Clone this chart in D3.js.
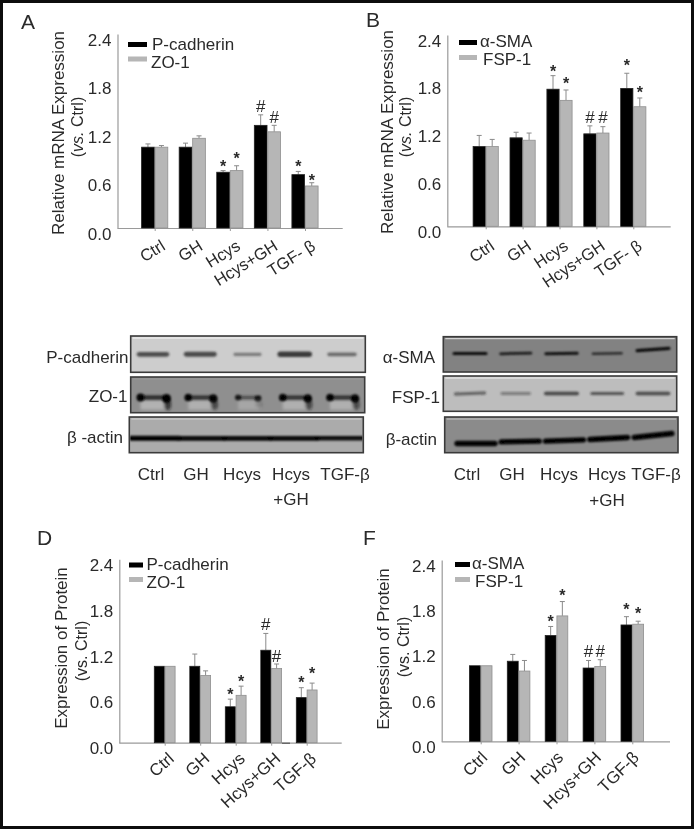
<!DOCTYPE html>
<html><head><meta charset="utf-8">
<script src="https://cdnjs.cloudflare.com/ajax/libs/d3/7.8.5/d3.min.js"></script>
<style>
html,body{margin:0;padding:0;background:#fff}
svg{display:block}
text{font-family:"Liberation Sans",Arial,sans-serif;fill:#2a2a2a}
</style></head><body>
<script>
// ---------- data ----------
const yTicks = [0, 0.6, 1.2, 1.8, 2.4];
const catsAB = ["Ctrl", "GH", "Hcys", "Hcys+GH", "TGF- β"];
const catsDF = ["Ctrl", "GH", "Hcys", "Hcys+GH", "TGF-β"];

const aBlack = [1.0, 1.0, 0.69, 1.27, 0.66];
const aBlackErr = [0.04, 0.05, 0.02, 0.13, 0.04];
const aGray = [1.0, 1.11, 0.71, 1.19, 0.52];
const aGrayErr = [0.02, 0.03, 0.06, 0.08, 0.04];
const aBlackMark = [null, null, "*", "#", "*"];
const aBlackMarkAt = [0, 0, 0.81, 1.51, 0.81];
const aGrayMark = [null, null, "*", "#", "*"];
const aGrayMarkAt = [0, 0, 0.91, 1.37, 0.64];

const bBlack = [1.0, 1.11, 1.72, 1.16, 1.73];
const bBlackErr = [0.14, 0.07, 0.17, 0.10, 0.19];
const bGray = [1.0, 1.08, 1.58, 1.17, 1.50];
const bGrayErr = [0.09, 0.09, 0.13, 0.08, 0.11];
const bBlackMark = [null, null, "*", "#", "*"];
const bBlackMarkAt = [0, 0, 2.0, 1.37, 2.07];
const bGrayMark = [null, null, "*", "#", "*"];
const bGrayMarkAt = [0, 0, 1.85, 1.37, 1.74];

const dBlack = [1.0, 1.0, 0.47, 1.21, 0.59];
const dBlackErr = [0, 0.16, 0.10, 0.22, 0.13];
const dGray = [1.0, 0.88, 0.62, 0.97, 0.69];
const dGrayErr = [0, 0.06, 0.12, 0.06, 0.09];
const dBlackMark = [null, null, "*", "#", "*"];
const dBlackMarkAt = [0, 0, 0.69, 1.55, 0.85];
const dGrayMark = [null, null, "*", "#", "*"];
const dGrayMarkAt = [0, 0, 0.86, 1.14, 0.96];

const fBlack = [1.0, 1.06, 1.40, 0.97, 1.54];
const fBlackErr = [0, 0.09, 0.12, 0.10, 0.11];
const fGray = [1.0, 0.93, 1.66, 0.99, 1.55];
const fGrayErr = [0, 0.14, 0.19, 0.09, 0.04];
const fBlackMark = [null, null, "*", "#", "*"];
const fBlackMarkAt = [0, 0, 1.64, 1.19, 1.80];
const fGrayMark = [null, null, "*", "#", "*"];
const fGrayMarkAt = [0, 0, 1.99, 1.19, 1.75];

// blot band strengths, one per lane
const cPcad = [0.72, 0.75, 0.38, 0.88, 0.48];
const cZo1 = [1.0, 0.92, 0.5, 0.92, 0.92];
const cActin = [1.0, 0.9, 0.9, 0.9, 0.85];
const eSma = [0.85, 0.7, 0.8, 0.55, 0.85];
const eFsp = [0.45, 0.3, 0.65, 0.55, 0.62];
const eActin = [0.95, 0.95, 0.95, 0.95, 0.95];
const blotLanes = ["Ctrl", "GH", "Hcys", "Hcys", "TGF-β"];

// ---------- drawing ----------
const W = 694, H = 829;
const svg = d3.select("body").append("svg").attr("width", W).attr("height", H);
const defs = svg.append("defs");
defs.append("filter").attr("id", "soft").attr("x", "-2%").attr("y", "-2%").attr("width", "104%").attr("height", "104%")
  .append("feGaussianBlur").attr("stdDeviation", 0.45);
defs.append("filter").attr("id", "band").attr("filterUnits", "userSpaceOnUse").attr("x", 0).attr("y", 0).attr("width", W).attr("height", H)
  .append("feGaussianBlur").attr("stdDeviation", 1.2);
defs.append("filter").attr("id", "smear").attr("filterUnits", "userSpaceOnUse").attr("x", 0).attr("y", 0).attr("width", W).attr("height", H)
  .append("feGaussianBlur").attr("stdDeviation", 1.8);
const root = svg.append("g").attr("filter", "url(#soft)");
root.append("rect").attr("width", W).attr("height", H).attr("fill", "#fff");
root.append("rect").attr("x", 1.5).attr("y", 1.5).attr("width", W - 3).attr("height", H - 3)
  .attr("fill", "none").attr("stroke", "#111").attr("stroke-width", 3);

const FS = 17;
function label(g, x, y, txt, opts = {}) {
  return g.append("text").attr("x", x).attr("y", y).attr("dy", "0.35em")
    .attr("font-size", opts.size || FS).attr("text-anchor", opts.anchor || "start").text(txt);
}

function barPanel(c) {
  const g = root.append("g");
  const y = d3.scaleLinear().domain([0, 2.4]).range([c.y0, c.y1]);
  const x = d3.scalePoint().domain(c.cats).range([c.first, c.last]);
  const gx = g.append("g").attr("transform", `translate(0,${c.y0})`)
    .call(d3.axisBottom(x).tickSize(3).tickSizeOuter(0));
  gx.select(".domain").attr("d", `M${c.x0},0.5H${c.x1}`).attr("stroke", "#9a9a9a").attr("stroke-width", 1.2);
  gx.selectAll("line").attr("stroke", "#9a9a9a");
  gx.selectAll("text").attr("font-size", c.catSize).attr("text-anchor", "end")
    .attr("y", 0).attr("dy", "0.35em").attr("x", 0)
    .attr("transform", `translate(${c.catDx},${c.catDy}) rotate(${c.catAngle})`);
  const gy = g.append("g").attr("transform", `translate(${c.x0},0)`)
    .call(d3.axisLeft(y).tickValues(yTicks).tickSize(0).tickPadding(6).tickFormat(d3.format(".1f")));
  gy.select(".domain").attr("stroke", "#9a9a9a").attr("stroke-width", 1.2);
  gy.selectAll("text").attr("font-size", FS).attr("dy", "0.65em");

  const series = [
    { v: c.black, e: c.blackErr, fill: "#000", stroke: "#222", side: -1, m: c.blackMark, at: c.blackMarkAt },
    { v: c.gray, e: c.grayErr, fill: "#b6b6b6", stroke: "#8f8f8f", side: 0, m: c.grayMark, at: c.grayMarkAt }
  ];
  series.forEach(s => {
    const cx = i => x(c.cats[i]) + s.side * c.barW + c.barW / 2;
    c.cats.forEach((cat, i) => {
      const xc = cx(i), top = y(s.v[i]);
      if (s.e[i] > 0) {
        g.append("line").attr("x1", xc).attr("x2", xc).attr("y1", top).attr("y2", y(s.v[i] + s.e[i]))
          .attr("stroke", "#8a8a8a").attr("stroke-width", 1);
        g.append("line").attr("x1", xc - 2.5).attr("x2", xc + 2.5).attr("y1", y(s.v[i] + s.e[i])).attr("y2", y(s.v[i] + s.e[i]))
          .attr("stroke", "#8a8a8a").attr("stroke-width", 1);
      }
      g.append("rect").attr("x", xc - c.barW / 2 + 0.4).attr("width", c.barW - 0.8)
        .attr("y", top).attr("height", c.y0 - top)
        .attr("fill", s.fill).attr("stroke", s.stroke).attr("stroke-width", 0.8);
      if (s.m[i]) {
        const star = s.m[i] === "*";
        g.append("text").attr("x", xc).attr("y", y(s.at[i])).attr("text-anchor", "middle")
          .attr("dy", star ? "0.62em" : "0.35em").attr("font-size", star ? 16 : 17)
          .attr("font-weight", star ? "bold" : "normal").attr("fill", "#111").text(s.m[i]);
      }
    });
  });
  if (c.blip) g.append("line").attr("x1", c.blip[0]).attr("x2", c.blip[1]).attr("y1", c.y0 + 0.5).attr("y2", c.y0 + 0.5)
    .attr("stroke", "#555").attr("stroke-width", 1.2);

  // y titles
  const title = (cxp, cyp, build) => {
    const t = g.append("text").attr("text-anchor", "middle").attr("font-size", FS)
      .attr("dy", "0.35em").attr("transform", `translate(${cxp},${cyp}) rotate(-90)`);
    build(t);
  };
  title(c.t1[0], c.t1[1], t => t.text(c.title));
  title(c.t2[0], c.t2[1], t => {
    t.attr("font-size", 16);
    t.append("tspan").text("(");
    t.append("tspan").attr("font-style", c.vsItalic ? "italic" : "normal").text("vs.");
    t.append("tspan").text(" Ctrl)");
  });

  // legend
  const lg = g.append("g");
  c.legend.forEach((l, i) => {
    lg.append("rect").attr("x", c.lx0).attr("width", c.lx1 - c.lx0).attr("y", c.ly[i] - 2.5).attr("height", 5)
      .attr("fill", i ? "#b6b6b6" : "#000");
    label(lg, l.x, c.lty[i], l.t);
  });
  label(g, c.letter[0], c.letter[1], c.letter[2], { size: 21 });
}

barPanel({
  cats: catsAB, black: aBlack, blackErr: aBlackErr, gray: aGray, grayErr: aGrayErr,
  blackMark: aBlackMark, blackMarkAt: aBlackMarkAt, grayMark: aGrayMark, grayMarkAt: aGrayMarkAt,
  x0: 117.5, x1: 342.7, y0: 228, y1: 34, first: 154.7, last: 305, barW: 13.5, catSize: 16.5, catDx: 8, catDy: 16, catAngle: -32,
  title: "Relative mRNA Expression", t1: [58, 133], t2: [77, 127], vsItalic: true,
  legend: [{ t: "P-cadherin", x: 152 }, { t: "ZO-1", x: 151 }], lx0: 128, lx1: 147, ly: [44.5, 59], lty: [44, 62],
  letter: [21, 22, "A"]
});
barPanel({
  cats: catsAB, black: bBlack, blackErr: bBlackErr, gray: bGray, grayErr: bGrayErr,
  blackMark: bBlackMark, blackMarkAt: bBlackMarkAt, grayMark: bGrayMark, grayMarkAt: bGrayMarkAt,
  x0: 447.3, x1: 670.7, y0: 226.3, y1: 35, first: 485.7, last: 633.3, barW: 13, catSize: 16.5, catDx: 6, catDy: 17.5, catAngle: -34,
  title: "Relative mRNA Expression", t1: [387, 132], t2: [405, 127], vsItalic: true,
  legend: [{ t: "α-SMA", x: 480 }, { t: "FSP-1", x: 483 }], lx0: 459, lx1: 477, ly: [42.5, 57.5], lty: [41, 59],
  letter: [366, 20, "B"]
});
barPanel({
  cats: catsDF, black: dBlack, blackErr: dBlackErr, gray: dGray, grayErr: dGrayErr,
  blackMark: dBlackMark, blackMarkAt: dBlackMarkAt, grayMark: dGrayMark, grayMarkAt: dGrayMarkAt,
  x0: 119.3, x1: 341.7, y0: 742.7, y1: 559.3, first: 164.7, last: 306.7, barW: 10.8, catSize: 17, catDx: 6, catDy: 13, catAngle: -42,
  title: "Expression of Protein", t1: [60.7, 648], t2: [81.7, 651], vsItalic: false, blip: [282, 290],
  legend: [{ t: "P-cadherin", x: 146.5 }, { t: "ZO-1", x: 146.5 }], lx0: 129, lx1: 143, ly: [565, 579.5], lty: [564.5, 582.5],
  letter: [37, 538, "D"]
});
barPanel({
  cats: catsDF, black: fBlack, blackErr: fBlackErr, gray: fGray, grayErr: fGrayErr,
  blackMark: fBlackMark, blackMarkAt: fBlackMarkAt, grayMark: fGrayMark, grayMarkAt: fGrayMarkAt,
  x0: 441.7, x1: 670, y0: 741.3, y1: 560, first: 480.7, last: 632.3, barW: 11.7, catSize: 17, catDx: 3, catDy: 13, catAngle: -45,
  title: "Expression of Protein", t1: [383, 649], t2: [403, 647], vsItalic: false,
  legend: [{ t: "α-SMA", x: 472 }, { t: "FSP-1", x: 475 }], lx0: 455, lx1: 470, ly: [564.5, 579.5], lty: [563.5, 581.5],
  letter: [363, 538, "F"]
});

// ---------- blots ----------
let rowId = 0;
function blotRow(g, r) {
  const id = "row" + (rowId++);
  defs.append("clipPath").attr("id", id).append("rect")
    .attr("x", r.x0 + 1).attr("y", r.y0 + 1).attr("width", r.x1 - r.x0 - 2).attr("height", r.y1 - r.y0 - 2);
  g.append("rect").attr("x", r.x0).attr("y", r.y0).attr("width", r.x1 - r.x0).attr("height", r.y1 - r.y0)
    .attr("fill", r.bg).attr("stroke", "#3a3a3a").attr("stroke-width", 1.6);
  g.append("line").attr("x1", r.x0 + 2).attr("x2", r.x1 - 2).attr("y1", r.y0 + 2).attr("y2", r.y0 + 2)
    .attr("stroke", "#fff").attr("stroke-opacity", r.hi).attr("stroke-width", 1);
  const x = d3.scalePoint().domain(d3.range(5)).range([r.l0, r.l4]);
  const clip = g.append("g").attr("clip-path", `url(#${id})`);
  const smear = clip.append("g").attr("filter", "url(#smear)");
  const bands = clip.append("g").attr("filter", "url(#band)");
  r.v.forEach((s, i) => {
    const w = r.w * (0.65 + 0.35 * s), h = r.h0 + r.h1 * s, lift = (r.lift || [])[i] || 0, tilt = (r.tilt || [])[i] || 0;
    const cx = x(i), cy = r.yb + lift;
    if (r.ring) {
      // pale pocket under the band, dark upper edge and heavier lane ends
      smear.append("rect").attr("x", cx - w / 2 + 4).attr("width", w - 8).attr("y", cy + 3).attr("height", r.y1 - cy - 6)
        .attr("fill", "#bdbdbd").attr("fill-opacity", 0.25 + 0.5 * s);
      bands.append("rect").attr("x", cx - w / 2 + 2).attr("width", w - 4).attr("y", cy - h / 2).attr("height", h)
        .attr("fill", "#222").attr("fill-opacity", 0.25 + 0.6 * s);
      bands.append("ellipse").attr("cx", cx - w / 2 + 4).attr("cy", cy).attr("rx", 2.5 + 1.5 * s).attr("ry", 2 + 2 * s)
        .attr("fill", "#000").attr("fill-opacity", 0.4 + 0.6 * s);
      bands.append("ellipse").attr("cx", cx + w / 2 - 5).attr("cy", cy + 1).attr("rx", 2.5 + 2 * s).attr("ry", 2 + 2.5 * s)
        .attr("fill", "#000").attr("fill-opacity", 0.4 + 0.6 * s);
      smear.append("ellipse").attr("cx", cx + w / 2 - 4).attr("cy", cy + 7).attr("rx", 3.5).attr("ry", 6 * s)
        .attr("fill", "#111").attr("fill-opacity", 0.75 * s * s);
    } else {
      bands.append("rect").attr("x", cx - w / 2).attr("width", w).attr("y", cy - h / 2).attr("height", h)
        .attr("rx", h / 2).attr("fill", r.ink).attr("fill-opacity", Math.min(1, 0.25 + 0.8 * s))
        .attr("transform", `rotate(${tilt},${cx},${cy})`);
    }
  });
  label(g, r.lx, r.ly, r.name, { anchor: "end" });
}
function laneLabels(g, xs, yy, yy2) {
  blotLanes.forEach((t, i) => label(g, xs[i], yy, t, { anchor: "middle" }));
  label(g, xs[3], yy2, "+GH", { anchor: "middle" });
}
const blotG = root.append("g");
blotRow(blotG, { name: "P-cadherin", v: cPcad, x0: 130.7, x1: 365.3, y0: 336, y1: 372.3, bg: "#cdcdcd", hi: 0.9, ink: "#333",
  l0: 153, l4: 342, yb: 354.3, w: 36, h0: 1.5, h1: 4.5, lx: 128.5, ly: 357 });
blotRow(blotG, { name: "ZO-1", v: cZo1, x0: 130.7, x1: 364.7, y0: 377, y1: 412.7, bg: "#8f8f8f", hi: 0.1, ink: "#000", ring: true,
  l0: 154, l4: 343, yb: 397.5, w: 35, h0: 2.5, h1: 2, lx: 127.5, ly: 396 });
blotRow(blotG, { name: "β -actin", v: cActin, x0: 129.3, x1: 363.3, y0: 417, y1: 452.7, bg: "#ababab", hi: 0.5, ink: "#000",
  l0: 155, l4: 340, yb: 438.3, w: 54, h0: 1.5, h1: 3.5, lx: 123, ly: 437 });
blotRow(blotG, { name: "α-SMA", v: eSma, x0: 443.3, x1: 676.7, y0: 336.7, y1: 372, bg: "#828282", hi: 0.8, ink: "#000",
  l0: 470, l4: 653, yb: 353.5, w: 37, h0: 1, h1: 2.5, lift: [0, 0, 0, 0, -4], tilt: [0, -1, -1, -1, -4], lx: 435, ly: 357 });
blotRow(blotG, { name: "FSP-1", v: eFsp, x0: 443.3, x1: 676.7, y0: 376, y1: 411.3, bg: "#bdbdbd", hi: 0.8, ink: "#222",
  l0: 470, l4: 653, yb: 393.5, w: 40, h0: 1.5, h1: 3, tilt: [-2, 0, 0, 0, 0], lx: 440, ly: 397 });
blotRow(blotG, { name: "β-actin", v: eActin, x0: 444.7, x1: 678, y0: 417, y1: 452.7, bg: "#8b8b8b", hi: 0.5, ink: "#000",
  l0: 476, l4: 653, yb: 441.5, w: 44, h0: 2.5, h1: 3, lift: [2, 0, -1, -3, -6], tilt: [0, -1, -2, -3, -6], lx: 437, ly: 439 });
laneLabels(blotG, [151, 196, 242, 291, 345], 474, 499);
laneLabels(blotG, [467, 512, 559, 607, 656], 474.5, 500);
</script>
</body></html>
